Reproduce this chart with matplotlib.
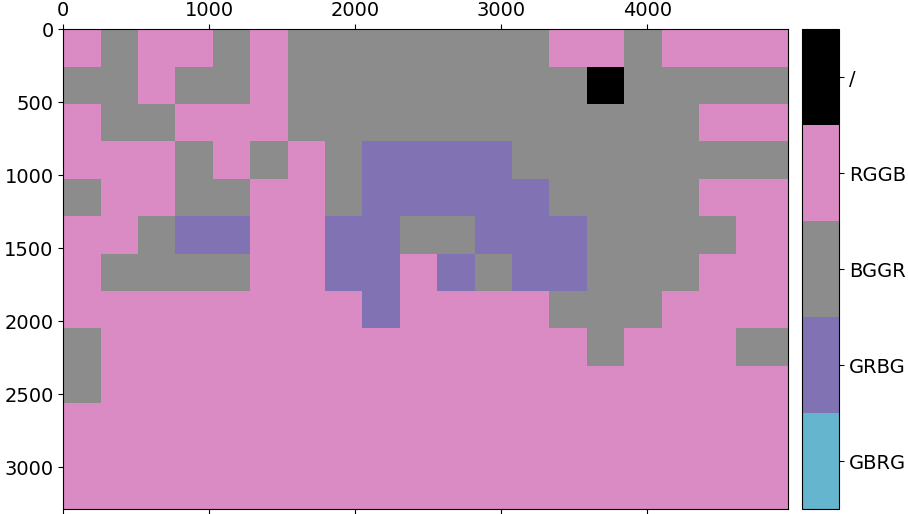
import matplotlib
matplotlib.use('Agg')
import matplotlib.pyplot as plt
import numpy as np
from matplotlib.colors import ListedColormap, BoundaryNorm

# Bayer pattern classes shown in the colour bar (index = class value)
labels = ['GBRG', 'GRBG', 'BGGR', 'RGGB', '/']
colors = ['#64B5CD', '#8172B3', '#8C8C8C', '#DA8BC3', '#000000']

# block edges in pixels (256 px blocks, last block is cut at image border)
x_edges = [0, 256, 512, 768, 1024, 1280, 1536, 1792, 2048, 2304, 2560,
           2816, 3072, 3328, 3584, 3840, 4096, 4352, 4608, 4960]
y_edges = [0, 256, 512, 768, 1024, 1280, 1536, 1792, 2048, 2304, 2560,
           2816, 3072, 3288]

# detected pattern per block: 0=GBRG 1=GRBG 2=BGGR 3=RGGB 4=/
grid = np.array([
    [3, 2, 3, 3, 2, 3, 2, 2, 2, 2, 2, 2, 2, 3, 3, 2, 3, 3, 3],
    [2, 2, 3, 2, 2, 3, 2, 2, 2, 2, 2, 2, 2, 2, 4, 2, 2, 2, 2],
    [3, 2, 2, 3, 3, 3, 2, 2, 2, 2, 2, 2, 2, 2, 2, 2, 2, 3, 3],
    [3, 3, 3, 2, 3, 2, 3, 2, 1, 1, 1, 1, 2, 2, 2, 2, 2, 2, 2],
    [2, 3, 3, 2, 2, 3, 3, 2, 1, 1, 1, 1, 1, 2, 2, 2, 2, 3, 3],
    [3, 3, 2, 1, 1, 3, 3, 1, 1, 2, 2, 1, 1, 1, 2, 2, 2, 2, 3],
    [3, 2, 2, 2, 2, 3, 3, 1, 1, 3, 1, 2, 1, 1, 2, 2, 2, 3, 3],
    [3, 3, 3, 3, 3, 3, 3, 3, 1, 3, 3, 3, 3, 2, 2, 2, 3, 3, 3],
    [2, 3, 3, 3, 3, 3, 3, 3, 3, 3, 3, 3, 3, 3, 2, 3, 3, 3, 2],
    [2, 3, 3, 3, 3, 3, 3, 3, 3, 3, 3, 3, 3, 3, 3, 3, 3, 3, 3],
    [3, 3, 3, 3, 3, 3, 3, 3, 3, 3, 3, 3, 3, 3, 3, 3, 3, 3, 3],
    [3, 3, 3, 3, 3, 3, 3, 3, 3, 3, 3, 3, 3, 3, 3, 3, 3, 3, 3],
    [3, 3, 3, 3, 3, 3, 3, 3, 3, 3, 3, 3, 3, 3, 3, 3, 3, 3, 3],
])

plt.rcParams['font.size'] = 14

W, H = 908, 514
fig = plt.figure(figsize=(W / 100, H / 100), dpi=100)
ax = fig.add_axes([63.3 / W, 4.7 / H, 724.4 / W, 480 / H])
cax = fig.add_axes([802 / W, 4.7 / H, 37 / W, 480 / H])

cmap = ListedColormap(colors)
norm = BoundaryNorm(np.arange(-0.5, len(labels) + 0.5, 1), cmap.N)

mesh = ax.pcolormesh(x_edges, y_edges, grid, cmap=cmap, norm=norm)
ax.set_xlim(x_edges[0], x_edges[-1])
ax.set_ylim(y_edges[-1], y_edges[0])
ax.set_xticks([0, 1000, 2000, 3000, 4000])
ax.set_yticks([0, 500, 1000, 1500, 2000, 2500, 3000])
# matshow style: labels on top, bare ticks at the bottom
ax.tick_params(top=True, labeltop=True, bottom=True, labelbottom=False)

cb = fig.colorbar(mesh, cax=cax, ticks=range(len(labels)))
cb.ax.set_yticklabels(labels)
cb.ax.minorticks_off()

fig.savefig('out.png', dpi=100)
